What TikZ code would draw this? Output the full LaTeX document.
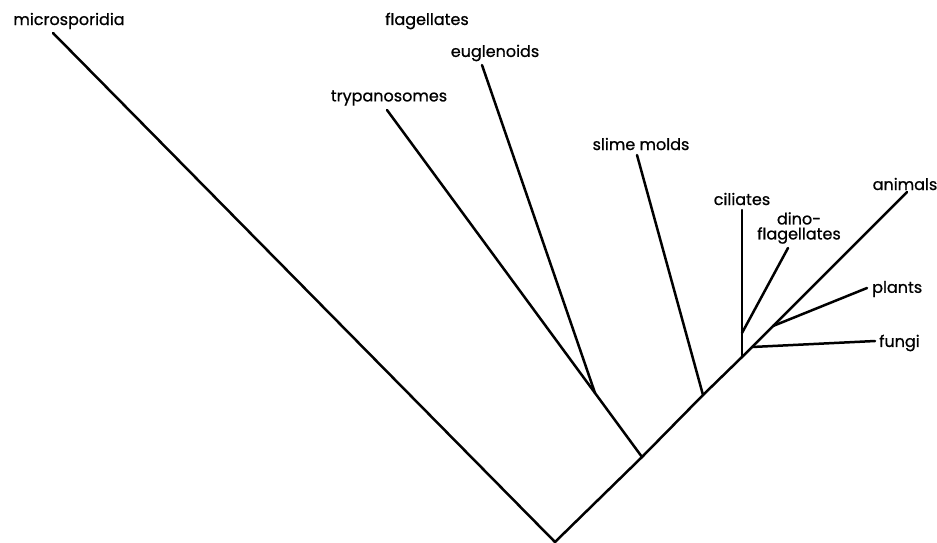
\documentclass[tikz,border=0pt]{standalone}
\usepackage{fontspec}
\setmainfont{Poppins}[FakeBold=0.8]
\begin{document}
\begin{tikzpicture}[x=1pt,y=-1pt,
  branch/.style={line width=2.5pt,line cap=round,line join=round},
  lbl/.style={inner sep=0pt,font=\fontsize{16}{16}\selectfont,text=black}]
\useasboundingbox (0,0) rectangle (937,542);
% junctions
\coordinate (root) at (555,542);
\coordinate (A) at (642,457);
\coordinate (B) at (595,393);
\coordinate (C) at (703,395);
\coordinate (D) at (742,357);
\coordinate (E) at (742,333);
\coordinate (F) at (752,347);
\coordinate (G) at (773,326);
% tips
\coordinate (micT) at (53,33);
\coordinate (tryT) at (387,110);
\coordinate (eugT) at (482,65);
\coordinate (sliT) at (637,155);
\coordinate (cilT) at (742,210);
\coordinate (dinT) at (788,248);
\coordinate (funT) at (875,341);
\coordinate (plaT) at (867,288);
\coordinate (aniT) at (907,192);
% labels
\node[lbl] (mic) at (69,21) {microsporidia};
\node[lbl] (fla) at (427,21) {flagellates};
\node[lbl] (eug) at (495,53) {euglenoids};
\node[lbl] (try) at (389,98) {trypanosomes};
\node[lbl] (sli) at (641,144) {slime molds};
\node[lbl] (cil) at (742,199) {ciliates};
\node[lbl,align=center,font=\fontsize{16}{15}\selectfont] (din) at (799,228) {dino-\\flagellates};
\node[lbl] (ani) at (905,184) {animals};
\node[lbl,anchor=west] (pla) at (872,289) {plants};
\node[lbl,anchor=west] (fun) at (879,343) {fungi};
% branches
\draw[branch] (micT) -- (root);
\draw[branch] (root) -- (A) -- (C) -- (D) -- (F) -- (G) -- (aniT);
\draw[branch] (A) -- (B) -- (tryT);
\draw[branch] (B) -- (eugT);
\draw[branch] (C) -- (sliT);
\draw[branch] (D) -- (E) -- (cilT);
\draw[branch] (E) -- (dinT);
\draw[branch] (F) -- (funT);
\draw[branch] (G) -- (plaT);
\end{tikzpicture}
\end{document}
